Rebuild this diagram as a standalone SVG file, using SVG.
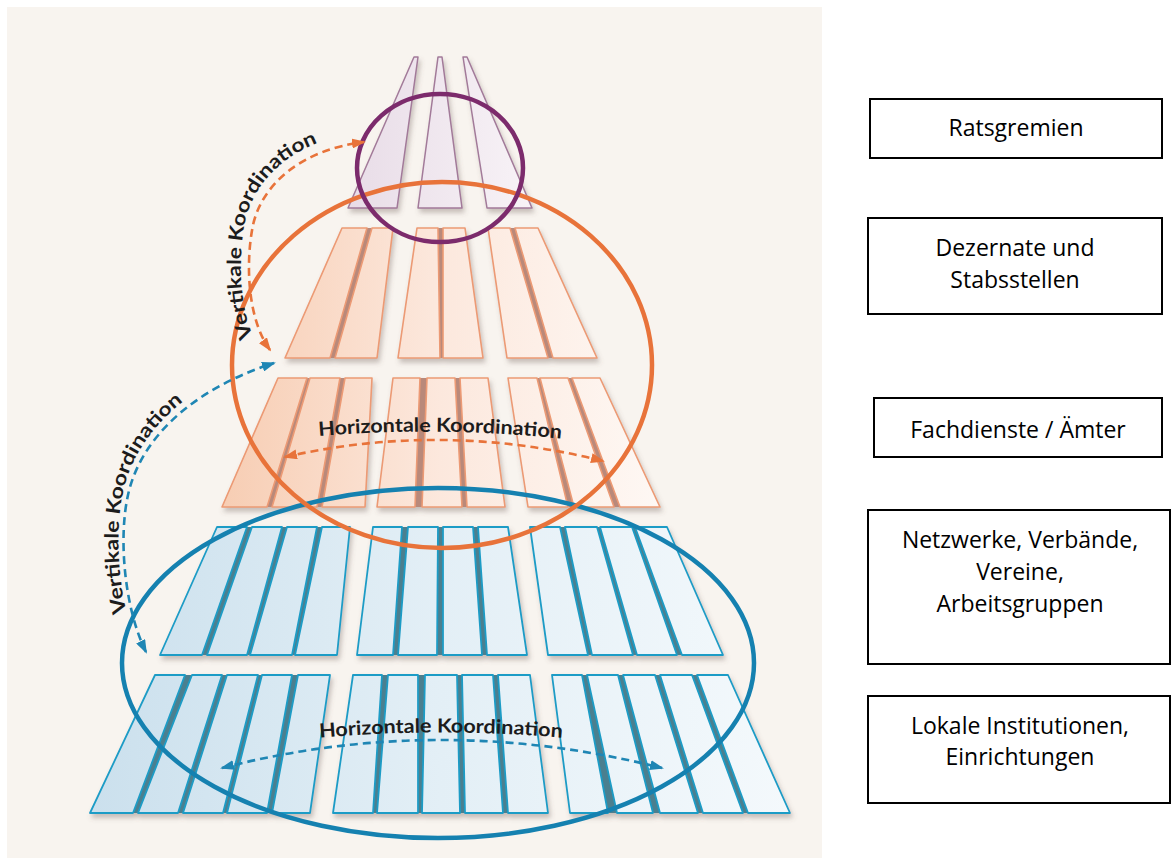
<svg xmlns="http://www.w3.org/2000/svg" width="1171" height="861" viewBox="0 0 1171 861">
<style>
.box{fill:#fff;stroke:#000;stroke-width:2}
.bt{font-family:"Open Sans","Noto Sans",sans-serif;font-size:23px;fill:#000;text-anchor:middle}
.lbl{font-family:Lato,"Open Sans",sans-serif;font-weight:bold;font-size:19.5px;fill:#1c1c1c}
.ob{fill:url(#gO);stroke:#ec9a74;stroke-width:1.6;stroke-linejoin:round}
.obase{fill:#b9897a}
.bb{fill:url(#gB);stroke:#1e9cc6;stroke-width:1.8;stroke-linejoin:round}
.bbase{fill:#4b7f8f}
.pb{fill:url(#gP);stroke:#a27a99;stroke-width:1.5;stroke-linejoin:round}
.dO{fill:none;stroke:#e8733a;stroke-width:2.6;stroke-dasharray:8 5}
.dB{fill:none;stroke:#1f86b4;stroke-width:2.6;stroke-dasharray:8 5}
</style>
<defs>
<linearGradient id="gO" gradientUnits="userSpaceOnUse" x1="220" y1="0" x2="660" y2="0">
<stop offset="0" stop-color="#f7cdb3"/><stop offset="0.5" stop-color="#fce8dd"/><stop offset="1" stop-color="#fef8f4"/>
</linearGradient>
<linearGradient id="gB" gradientUnits="userSpaceOnUse" x1="90" y1="0" x2="790" y2="0">
<stop offset="0" stop-color="#cbe0ed"/><stop offset="0.5" stop-color="#e3eff6"/><stop offset="1" stop-color="#f4f9fc"/>
</linearGradient>
<linearGradient id="gP" gradientUnits="userSpaceOnUse" x1="345" y1="0" x2="535" y2="0">
<stop offset="0" stop-color="#e8dce7"/><stop offset="1" stop-color="#f8f3f7"/>
</linearGradient>
<filter id="sh" x="-10%" y="-10%" width="130%" height="140%">
<feDropShadow dx="2" dy="4" stdDeviation="2.5" flood-color="#6a5a55" flood-opacity="0.35"/>
</filter>
<marker id="aO" viewBox="0 0 14 10" refX="12" refY="5" markerWidth="14" markerHeight="10" markerUnits="userSpaceOnUse" orient="auto-start-reverse">
<path d="M0,0 L14,5 L0,10 z" fill="#e8733a"/>
</marker>
<marker id="aB" viewBox="0 0 14 10" refX="12" refY="5" markerWidth="14" markerHeight="10" markerUnits="userSpaceOnUse" orient="auto-start-reverse">
<path d="M0,0 L14,5 L0,10 z" fill="#1f86b4"/>
</marker>
<path id="tpOV" d="M 262,352 C 240,322 237,265 245,222 C 255,177 296,140 362,132"/>
<path id="tpBV" d="M 140,652 C 120,610 113,540 123,493 C 135,435 186,384 270,357"/>
<path id="tpOH" d="M 306,437 Q 440,425 574,440"/>
<path id="tpBH" d="M 306,739 Q 440,726 576,739"/>
</defs>

<rect x="0" y="0" width="1171" height="861" fill="#fff"/>
<rect x="7" y="7" width="815" height="851" fill="#f8f4ef"/>

<g id="ebene-ratsgremien-saeulen" filter="url(#sh)">
<polygon class="pb" points="414,57 418,57 397,208 348,208"/>
<polygon class="pb" points="438,57 442,57 462,208 418,208"/>
<polygon class="pb" points="463,57 467,57 532,208 487,208"/>
</g>

<g id="ebene-dezernate" filter="url(#sh)">
<polygon class="obase" points="342,228 393,228 377,358 285,358"/>
<polygon class="obase" points="417,228 465,228 483,358 398,358"/>
<polygon class="obase" points="488,228 538,228 597,358 507,358"/>
<polygon class="ob" points="342,228 367,228 330,358 285,358"/>
<polygon class="ob" points="372,228 393,228 377,358 335,358"/>
<polygon class="ob" points="417,228 438,228 440,358 398,358"/>
<polygon class="ob" points="443,228 465,228 483,358 443,358"/>
<polygon class="ob" points="488,228 510,228 548,358 507,358"/>
<polygon class="ob" points="515,228 538,228 597,358 553,358"/>
</g>

<g id="ebene-fachdienste" filter="url(#sh)">
<polygon class="obase" points="278,378 372,378 365,507 222,507"/>
<polygon class="obase" points="393,378 488,378 505,507 377,507"/>
<polygon class="obase" points="508,378 600,378 660,507 528,507"/>
<polygon class="ob" points="278,378 307,378 267,507 222,507"/>
<polygon class="ob" points="310,378 340,378 317,507 272,507"/>
<polygon class="ob" points="345,378 372,378 365,507 322,507"/>
<polygon class="ob" points="393,378 420,378 415,507 377,507"/>
<polygon class="ob" points="427,378 455,378 462,507 422,507"/>
<polygon class="ob" points="460,378 488,378 505,507 467,507"/>
<polygon class="ob" points="508,378 537,378 568,507 528,507"/>
<polygon class="ob" points="540,378 568,378 614,507 574,507"/>
<polygon class="ob" points="572,378 600,378 660,507 620,507"/>
</g>

<g id="ebene-netzwerke" filter="url(#sh)">
<polygon class="bbase" points="217,527 350,527 337,655 160,655"/>
<polygon class="bbase" points="373,527 508,527 527,655 357,655"/>
<polygon class="bbase" points="530,527 667,527 723,655 548,655"/>
<polygon class="bb" points="217,527 247,527 202,655 160,655"/>
<polygon class="bb" points="252,527 282,527 247,655 207,655"/>
<polygon class="bb" points="287,527 317,527 292,655 250,655"/>
<polygon class="bb" points="322,527 350,527 337,655 295,655"/>
<polygon class="bb" points="373,527 402,527 393,655 357,655"/>
<polygon class="bb" points="408,527 438,527 437,655 398,655"/>
<polygon class="bb" points="443,527 473,527 482,655 443,655"/>
<polygon class="bb" points="478,527 508,527 527,655 487,655"/>
<polygon class="bb" points="530,527 560,527 588,655 548,655"/>
<polygon class="bb" points="565,527 597,527 633,655 592,655"/>
<polygon class="bb" points="600,527 632,527 677,655 637,655"/>
<polygon class="bb" points="635,527 667,527 723,655 682,655"/>
</g>

<g id="ebene-lokale-institutionen" filter="url(#sh)">
<polygon class="bbase" points="155,675 330,675 310,813 90,813"/>
<polygon class="bbase" points="353,675 530,675 548,813 333,813"/>
<polygon class="bbase" points="552,675 728,675 790,813 570,813"/>
<polygon class="bb" points="155,675 185,675 133,813 90,813"/>
<polygon class="bb" points="192,675 222,675 178,813 138,813"/>
<polygon class="bb" points="227,675 258,675 223,813 183,813"/>
<polygon class="bb" points="262,675 292,675 267,813 227,813"/>
<polygon class="bb" points="298,675 330,675 310,813 272,813"/>
<polygon class="bb" points="353,675 382,675 373,813 333,813"/>
<polygon class="bb" points="388,675 418,675 418,813 377,813"/>
<polygon class="bb" points="425,675 457,675 460,813 422,813"/>
<polygon class="bb" points="462,675 493,675 503,813 465,813"/>
<polygon class="bb" points="498,675 530,675 548,813 508,813"/>
<polygon class="bb" points="552,675 582,675 608,813 570,813"/>
<polygon class="bb" points="587,675 618,675 653,813 617,813"/>
<polygon class="bb" points="623,675 655,675 698,813 660,813"/>
<polygon class="bb" points="660,675 692,675 743,813 703,813"/>
<polygon class="bb" points="697,675 728,675 790,813 748,813"/>
</g>

<g id="kreise">
<ellipse cx="438" cy="663" rx="316" ry="175" fill="none" stroke="#1581b0" stroke-width="4.5"/>
<ellipse cx="442" cy="365" rx="210" ry="183" fill="none" stroke="#e8733a" stroke-width="4.5"/>
<ellipse cx="440" cy="168" rx="83" ry="74" fill="none" stroke="#7c2b6c" stroke-width="4.5"/>
</g>

<g id="connectors">
<path class="dO" d="M 270,350 C 248,320 245,265 253,225 C 262,185 300,150 364,142" marker-start="url(#aO)" marker-end="url(#aO)"/>
<path class="dB" d="M 146,652 C 125,610 118,540 128,495 C 140,440 190,390 274,363" marker-start="url(#aB)" marker-end="url(#aB)"/>
<path class="dO" d="M 285,457 Q 443,421 603,461" marker-start="url(#aO)" marker-end="url(#aO)"/>
<path class="dB" d="M 222,768 Q 440,712 662,768" marker-start="url(#aB)" marker-end="url(#aB)"/>
</g>

<g id="beschriftungen">
<text class="lbl"><textPath href="#tpOV" startOffset="18" textLength="228" lengthAdjust="spacingAndGlyphs">Vertikale Koordination</textPath></text>
<text class="lbl"><textPath href="#tpBV" startOffset="42" textLength="232" lengthAdjust="spacingAndGlyphs">Vertikale Koordination</textPath></text>
<text class="lbl" text-anchor="middle"><textPath href="#tpOH" startOffset="50%" textLength="243" lengthAdjust="spacingAndGlyphs">Horizontale Koordination</textPath></text>
<text class="lbl" text-anchor="middle"><textPath href="#tpBH" startOffset="50%" textLength="243" lengthAdjust="spacingAndGlyphs">Horizontale Koordination</textPath></text>
</g>

<g id="box-ratsgremien">
<rect class="box" x="870" y="99" width="292" height="59"/>
<text class="bt" x="1016" y="136">Ratsgremien</text>
</g>
<g id="box-dezernate">
<rect class="box" x="868" y="218" width="294" height="96"/>
<text class="bt" x="1015" y="256">Dezernate und</text>
<text class="bt" x="1015" y="288">Stabsstellen</text>
</g>
<g id="box-fachdienste">
<rect class="box" x="874" y="398" width="288" height="59"/>
<text class="bt" x="1018" y="438">Fachdienste / Ämter</text>
</g>
<g id="box-netzwerke">
<rect class="box" x="868" y="510" width="302" height="154"/>
<text class="bt" x="1020" y="548">Netzwerke, Verbände,</text>
<text class="bt" x="1020" y="580">Vereine,</text>
<text class="bt" x="1020" y="612">Arbeitsgruppen</text>
</g>
<g id="box-lokale">
<rect class="box" x="868" y="696" width="302" height="107"/>
<text class="bt" x="1020" y="734">Lokale Institutionen,</text>
<text class="bt" x="1020" y="765">Einrichtungen</text>
</g>
</svg>
